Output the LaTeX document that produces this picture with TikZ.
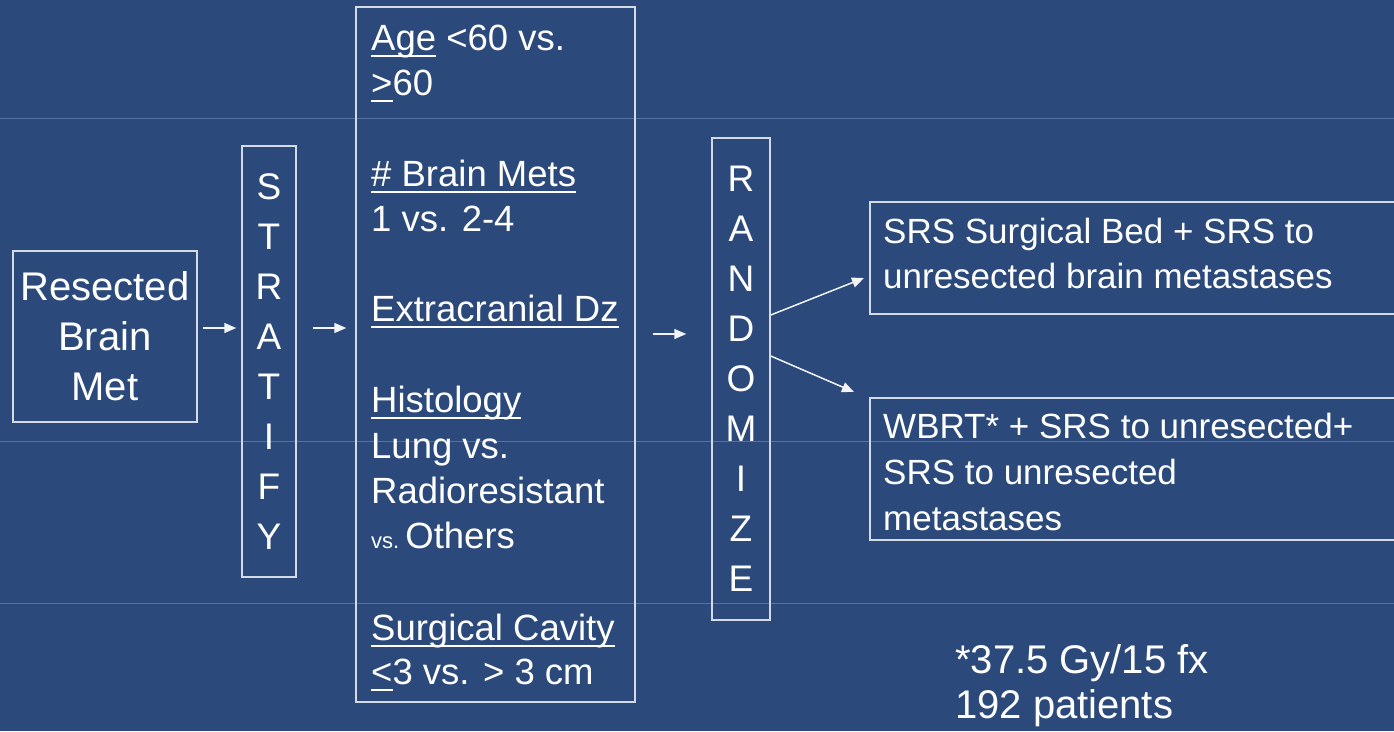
\documentclass[tikz,border=0pt]{standalone}
\usepackage{fontspec}
\setmainfont{Liberation Sans}
\usetikzlibrary{arrows.meta,calc}
\definecolor{bg}{HTML}{2B4A7B}
\definecolor{gridc}{HTML}{5672A0}
\definecolor{framec}{HTML}{D4DBE6}
\newsavebox\ulnbox
\newcommand\uln[1]{\sbox\ulnbox{#1}\rlap{\rule[-6.5pt]{\wd\ulnbox}{1.8pt}}\usebox{\ulnbox}}
\begin{document}
\begin{tikzpicture}[x=1pt,y=-1pt,
  box/.style={draw=framec, line width=1.5pt, text=white, inner sep=0pt},
  arr/.style={draw=white!94!bg, line width=1.5pt, -{Triangle[length=12pt,width=10pt]}},
  txt/.style={text=white, inner sep=0pt, anchor=base west, font=\fontsize{35}{45}\selectfont},
  crittxt/.style={txt, font=\fontsize{36.5}{45}\selectfont},
  gridline/.style={draw=gridc, line width=1pt},
  letters/.style={align=center, font=\fontsize{37}{50}\selectfont}]
\useasboundingbox (0,0) rectangle (1394,731);
\fill[bg] (0,0) rectangle (1394,731);
\clip (0,0) rectangle (1394,731);
% background template lines
\draw[gridline] (0,118) -- (1394,118);
\draw[gridline] (0,441) -- (1394,441);
\draw[gridline] (0,603) -- (1394,603);
% boxes
\node[box, minimum width=184, minimum height=171, align=center, font=\fontsize{40}{50}\selectfont] (res) at (105,336.5) {Resected\\Brain\\Met};
\node[box, letters, minimum width=54, minimum height=431] (strat) at (269,361.5) {S\\T\\R\\A\\T\\I\\F\\Y};
\node[box, minimum width=279, minimum height=695] (crit) at (495.5,354.5) {};
\node[box, letters, minimum width=58, minimum height=482] (rand) at (741,379) {R\\A\\N\\D\\O\\M\\I\\Z\\E};
\node[box, anchor=north west, minimum width=551, minimum height=112] (armA) at (869,201) {};
\node[box, anchor=north west, minimum width=551, minimum height=142] (armB) at (869,397) {};
% criteria text
\node[crittxt] (c1) at (371,50) {\uln{Age} <60 vs.};
\node[crittxt] (c2) at (371,95) {\uln{>}60};
\node[crittxt] (c3) at (371,186) {\uln{\# Brain Mets}};
\node[crittxt] (c4) at (371,231) {1 vs. 2-4};
\node[crittxt] (c5) at (371,321) {\uln{Extracranial Dz}};
\node[crittxt] (c6) at (371,412) {\uln{Histology}};
\node[crittxt] (c7) at (371,458) {Lung vs.};
\node[crittxt] (c8) at (371,503) {Radioresistant};
\node[crittxt] (c9) at (371,548) {{\fontsize{22}{26}\selectfont vs.}\,Others};
\node[crittxt] (c10) at (371,640) {\uln{Surgical Cavity}};
\node[crittxt] (c11) at (371,684) {\uln{<}3 vs. > 3 cm};
% arm texts
\node[txt] (a1) at (883,243) {SRS Surgical Bed + SRS to};
\node[txt] (a2) at (883,288) {unresected brain metastases};
\node[txt] (b1) at (883,438) {WBRT* + SRS to unresected+};
\node[txt] (b2) at (883,484) {SRS to unresected};
\node[txt] (b3) at (883,530) {metastases};
% footnote
\node[txt, font=\fontsize{40}{45}\selectfont] (f1) at (955,673) {*37.5 Gy/15 fx};
\node[txt, font=\fontsize{40}{45}\selectfont] (f2) at (955,718) {192 patients};
% connectors
\coordinate (y1) at (0,328);
\coordinate (y3) at (0,334);
\coordinate (s1) at (0,315);
\coordinate (s2) at (0,356);
\coordinate (e1) at (864,278);
\coordinate (e2) at (854,392);
\draw[arr, shorten <=5pt, shorten >=5pt] (res.east |- y1) -- (strat.west |- y1);
\draw[arr, shorten <=16pt, shorten >=9pt] (strat.east |- y1) -- (crit.west |- y1);
\draw[arr, shorten <=17pt, shorten >=25pt] (crit.east |- y3) -- (rand.west |- y3);
\draw[arr] (rand.east |- s1) -- (e1);
\draw[arr] (rand.east |- s2) -- (e2);
\end{tikzpicture}
\end{document}
